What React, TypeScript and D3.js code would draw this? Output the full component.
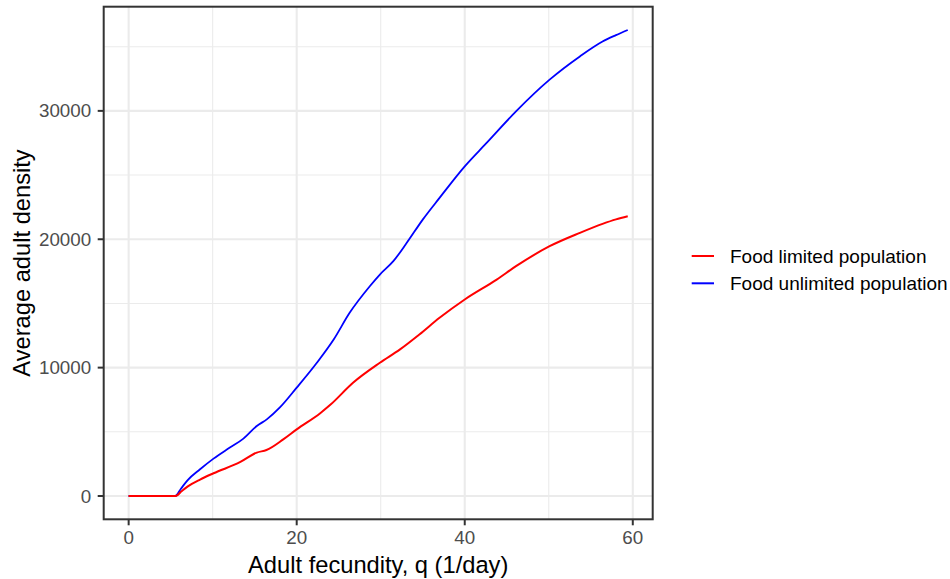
import React from "react";
import * as d3 from "d3";

const unlimitedX = [0, 5.55, 6.2, 7.0, 8.5, 10.1, 12.0, 13.66, 15.25, 16.44, 18.0, 20.0, 22.4, 24.4, 26.3, 28.7, 29.9, 31.5, 33.1, 35.0, 37.0, 40.0, 42.6, 46.1, 50.1, 53.7, 56.4, 58.0, 59.4];
const unlimitedY = [0, 0, 550, 1220, 2080, 2910, 3750, 4470, 5450, 5970, 6900, 8440, 10380, 12190, 14270, 16340, 17250, 18290, 19720, 21530, 23220, 25680, 27500, 29960, 32430, 34240, 35400, 35900, 36300];

const limitedX = [0, 5.55, 6.2, 7.0, 8.5, 10.1, 13.3, 15.25, 16.4, 18.4, 20.0, 22.8, 24.0, 26.7, 29.9, 32.3, 34.6, 37.0, 40.0, 43.8, 46.1, 50.1, 53.7, 56.4, 58.0, 59.4];
const limitedY = [0, 0, 330, 730, 1280, 1770, 2650, 3380, 3580, 4410, 5190, 6450, 7100, 8820, 10380, 11420, 12580, 13880, 15310, 16860, 17900, 19460, 20500, 21200, 21550, 21790];

const xTicks = [0, 20, 40, 60];
const xMinor = [10, 30, 50];
const yTicks = [0, 10000, 20000, 30000];
const yMinor = [5000, 15000, 25000, 35000];

const seriesNames = ["Food limited population", "Food unlimited population"];
const seriesColors = ["#FF0000", "#0000FF"];

const W = 950, H = 579;
const P = { left: 103.7, right: 652.7, top: 6.7, bottom: 519.3 };
const FONT = "'Liberation Sans', Arial, sans-serif";

export default function App() {
  const xMaxData = 59.4, yMaxData = 36300;
  const xPad = xMaxData * 0.05, yPad = yMaxData * 0.05;
  const x = d3.scaleLinear().domain([-xPad, xMaxData + xPad]).range([P.left, P.right]);
  const y = d3.scaleLinear().domain([-yPad, yMaxData + yPad]).range([P.bottom, P.top]);
  const line = d3.line<[number, number]>().x(d => x(d[0])).y(d => y(d[1])).curve(d3.curveMonotoneX);
  const lim = limitedX.map((v, i) => [v, limitedY[i]] as [number, number]);
  const unl = unlimitedX.map((v, i) => [v, unlimitedY[i]] as [number, number]);
  const cy = (P.top + P.bottom) / 2;
  const cx = (P.left + P.right) / 2;
  return (
    <svg width={W} height={H} style={{ position: "absolute", left: 0, top: 0 }} fontFamily={FONT}>
      <rect width={W} height={H} fill="#fff" />
      <g>
        {xMinor.map(t => <line key={"xm" + t} x1={x(t)} x2={x(t)} y1={P.top} y2={P.bottom} stroke="#EBEBEB" strokeWidth={1.1} />)}
        {yMinor.map(t => <line key={"ym" + t} y1={y(t)} y2={y(t)} x1={P.left} x2={P.right} stroke="#EBEBEB" strokeWidth={1.1} />)}
        {xTicks.map(t => <line key={"xg" + t} x1={x(t)} x2={x(t)} y1={P.top} y2={P.bottom} stroke="#EBEBEB" strokeWidth={2.1} />)}
        {yTicks.map(t => <line key={"yg" + t} y1={y(t)} y2={y(t)} x1={P.left} x2={P.right} stroke="#EBEBEB" strokeWidth={2.1} />)}
      </g>
      <path d={line(lim) || ""} fill="none" stroke={seriesColors[0]} strokeWidth={2} />
      <path d={line(unl) || ""} fill="none" stroke={seriesColors[1]} strokeWidth={1.8} />
      <path d={line(lim.slice(0, 3)) || ""} fill="none" stroke={seriesColors[0]} strokeWidth={2} />
      <rect x={P.left} y={P.top} width={P.right - P.left} height={P.bottom - P.top} fill="none" stroke="#333333" strokeWidth={2} />
      {xTicks.map(t => (
        <g key={"xt" + t}>
          <line x1={x(t)} x2={x(t)} y1={P.bottom} y2={P.bottom + 6} stroke="#333333" strokeWidth={2} />
          <text x={x(t)} y={P.bottom + 25} textAnchor="middle" fontSize={18.8} fill="#4D4D4D">{t}</text>
        </g>
      ))}
      {yTicks.map(t => (
        <g key={"yt" + t}>
          <line x1={P.left - 6} x2={P.left} y1={y(t)} y2={y(t)} stroke="#333333" strokeWidth={2} />
          <text x={P.left - 12.5} y={y(t)} dy="0.35em" textAnchor="end" fontSize={18.8} fill="#4D4D4D">{t}</text>
        </g>
      ))}
      <text x={cx} y={573} textAnchor="middle" fontSize={23.7} fill="#000">Adult fecundity, q (1/day)</text>
      <text transform={`translate(30,${cy}) rotate(-90)`} textAnchor="middle" fontSize={23.7} fill="#000">Average adult density</text>
      {seriesNames.map((n, i) => (
        <g key={n}>
          <line x1={691.7} x2={714} y1={256 + i * 27.3} y2={256 + i * 27.3} stroke={seriesColors[i]} strokeWidth={2} />
          <text x={730} y={256 + i * 27.3} dy="0.35em" fontSize={19} fill="#000">{n}</text>
        </g>
      ))}
    </svg>
  );
}
